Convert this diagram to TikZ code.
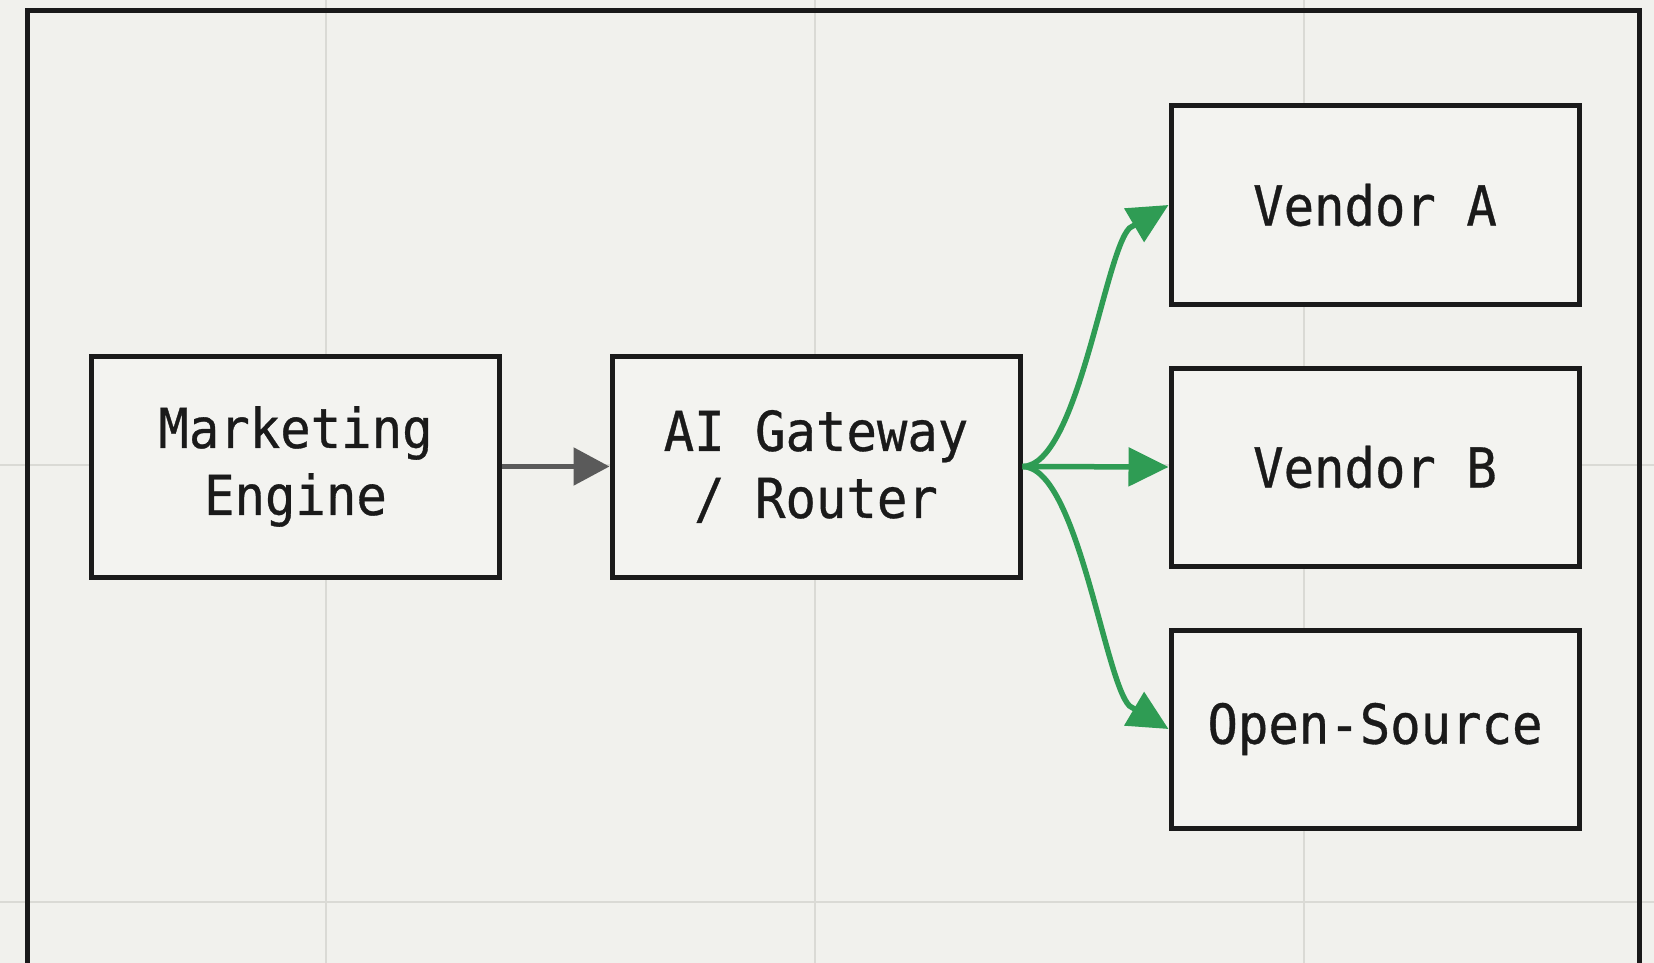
\documentclass[tikz,border=0pt]{standalone}
\usepackage{fontspec}
\usetikzlibrary{arrows.meta,calc}
\newfontfamily\boxfont[FakeStretch=0.92,FakeBold=0.6]{DejaVu Sans Mono}
\definecolor{paper}{HTML}{F1F1ED}
\definecolor{boxfill}{HTML}{F3F3F0}
\definecolor{gridline}{HTML}{DADAD5}
\definecolor{ink}{HTML}{1A1A1A}
\definecolor{flowgray}{HTML}{5A5A5A}
\definecolor{routegreen}{HTML}{2F9C54}
\tikzset{
  stagebox/.style={draw=ink, line width=5pt, fill=boxfill, minimum width=408pt,
    align=center, inner sep=0pt, text=ink,
    font=\boxfont\fontsize{55}{67}\selectfont},
  feed/.style={draw=flowgray, line width=5.5pt, -{Triangle[length=36pt,width=37pt]}},
  route/.style={draw=routegreen, line width=5.5pt, line join=round,
    -{Triangle[length=40pt,width=38pt]}},
  gridrule/.style={draw=gridline, line width=1.6pt},
}
\begin{document}
\begin{tikzpicture}[x=1pt,y=-1pt]
  \useasboundingbox (0,0) rectangle (1654,963);
  \clip (0,0) rectangle (1654,963);
  \fill[paper] (0,0) rectangle (1654,963);
  % background grid
  \foreach \gx in {326,815,1304} \draw[gridrule] (\gx,0) -- (\gx,963);
  \foreach \gy in {465,902} \draw[gridrule] (0,\gy) -- (1654,\gy);
  % outer frame, open at the bottom
  \draw[ink, line width=5pt] (27,990) -- (27,10.5) -- (1639,10.5) -- (1639,990);
  % stages
  \node[stagebox, minimum height=221pt] (me) at (295.5,466.5) {Marketing\\Engine};
  \node[stagebox, minimum height=221pt] (gw) at (816,466.5) {AI Gateway\\/ Router};
  \node[stagebox, minimum height=199pt] (va) at (1375,205) {Vendor A};
  \node[stagebox, minimum height=198pt] (vb) at (1375,467) {Vendor B};
  \node[stagebox, minimum height=198pt] (os) at (1375,729) {Open-Source};
  % connectors: curved routes end in a short straight run carrying the tip
  \draw[feed] (me.east) -- (gw.west);
  \draw[route] (gw.east) .. controls +(55,0) and +(-25,25) .. ($(va.west)+(-39,23)$) -- (va.west);
  \draw[route] (gw.east) -- (vb.west);
  \draw[route] (gw.east) .. controls +(55,0) and +(-25,-25) .. ($(os.west)+(-39,-23)$) -- (os.west);
\end{tikzpicture}
\end{document}
